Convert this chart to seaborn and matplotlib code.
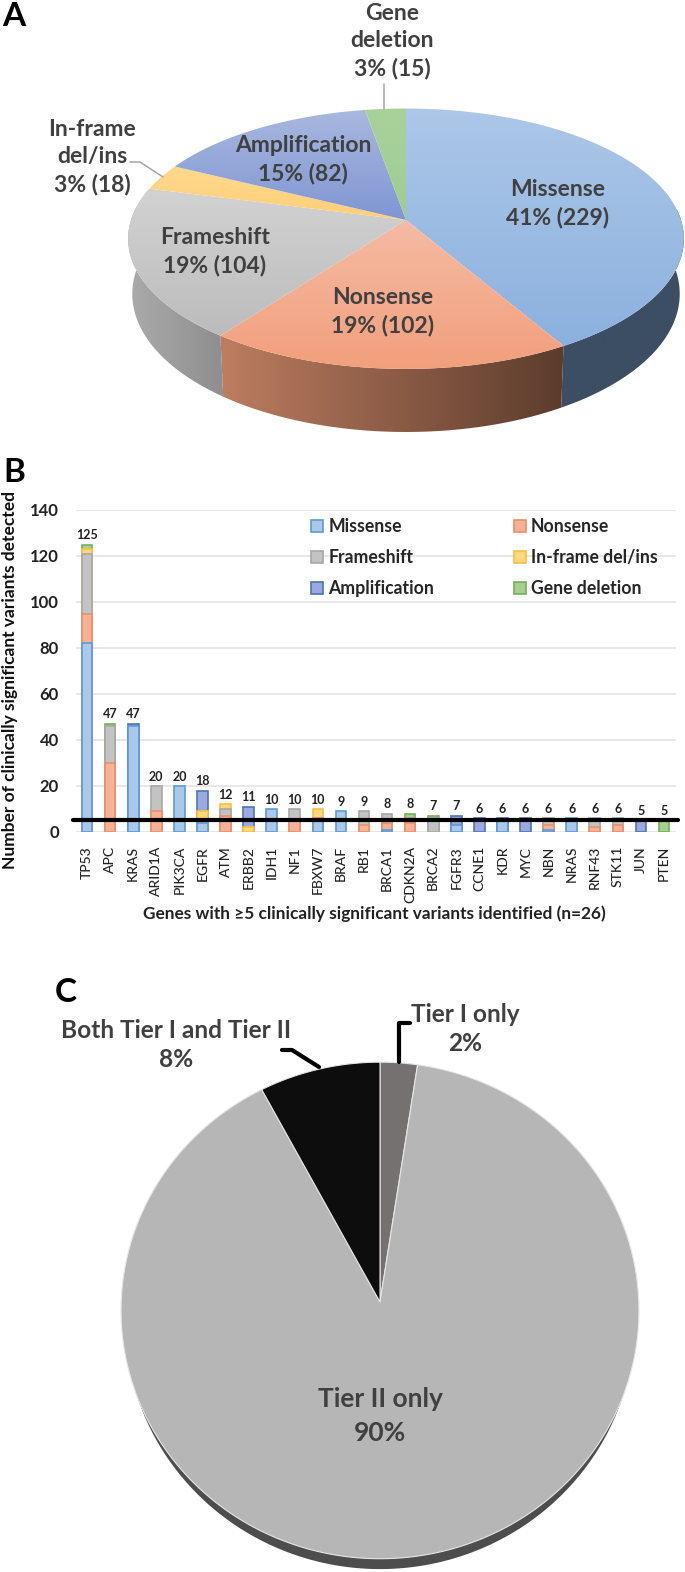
import numpy as np
import pandas as pd
import seaborn as sns
import matplotlib.pyplot as plt
from matplotlib.colors import LinearSegmentedColormap
from matplotlib.patches import Patch, Polygon

# panel A
mut_types = ['Missense', 'Nonsense', 'Frameshift', 'In-frame del/ins', 'Amplification', 'Gene deletion']
mut_counts = [229, 102, 104, 18, 82, 15]
mut_labels = ['Missense\n41% (229)', 'Nonsense\n19% (102)', 'Frameshift\n19% (104)',
              'In-frame\ndel/ins\n3% (18)', 'Amplification\n15% (82)', 'Gene\ndeletion\n3% (15)']

# panel B
genes = ['TP53', 'APC', 'KRAS', 'ARID1A', 'PIK3CA', 'EGFR', 'ATM', 'ERBB2', 'IDH1', 'NF1', 'FBXW7', 'BRAF', 'RB1',
         'BRCA1', 'CDKN2A', 'BRCA2', 'FGFR3', 'CCNE1', 'KDR', 'MYC', 'NBN', 'NRAS', 'RNF43', 'STK11', 'JUN', 'PTEN']
missense = [82, 0, 46, 0, 20, 4, 0, 0, 10, 0, 5, 9, 0, 1, 0, 0, 3, 0, 5, 0, 1, 6, 0, 0, 0, 0]
nonsense = [13, 30, 0, 9, 0, 0, 7, 0, 0, 5, 1, 0, 3, 3, 4, 0, 0, 0, 0, 0, 2, 0, 2, 3, 0, 0]
frameshift = [26, 16, 0, 11, 0, 0, 3, 0, 0, 5, 0, 0, 6, 4, 2, 6, 0, 0, 0, 0, 3, 0, 4, 3, 0, 0]
inframe = [2, 0, 0, 0, 0, 5, 2, 2, 0, 0, 4, 0, 0, 0, 0, 0, 0, 0, 0, 0, 0, 0, 0, 0, 0, 0]
amplification = [0, 0, 1, 0, 0, 9, 0, 9, 0, 0, 0, 0, 0, 0, 0, 0, 4, 6, 1, 6, 0, 0, 0, 0, 5, 0]
deletion = [2, 1, 0, 0, 0, 0, 0, 0, 0, 0, 0, 0, 0, 0, 2, 1, 0, 0, 0, 0, 0, 0, 0, 0, 0, 5]
y_ticks = [0, 20, 40, 60, 80, 100, 120, 140]
threshold = 5

# panel C
tier_names = ['Tier I only', 'Tier II only', 'Both Tier I and Tier II']
tier_share = [2.4, 89.8, 7.8]

W, H = 685, 1572
TEXT = '#404040'

sns.set_theme(style='white')
plt.rcParams['font.family'] = ['Lato', 'DejaVu Sans']
plt.rcParams['font.weight'] = 'bold'

fig = plt.figure(figsize=(W / 100, H / 100), dpi=100)

# bar panel, placed so that the axis runs through the pixel rows of the reference
axb = fig.add_axes([75.5 / W, 1 - 832 / H, 600 / W, 322 / H])
bar_df = pd.DataFrame(dict(zip(mut_types, [missense, nonsense, frameshift, inframe, amplification, deletion])), index=genes)
tops = bar_df.cumsum(axis=1).where(bar_df > 0)
bar_face = ['#a9c8ea', '#f8b196', '#c3c3c3', '#ffd77f', '#9aaade', '#a5d08f']
bar_edge = ['#5b9bd5', '#ea9068', '#a8a8a8', '#f5c242', '#4f74b8', '#78b05a']

# stacked by overdrawing the running totals, tallest layer first
for name, face, edge in list(zip(mut_types, bar_face, bar_edge))[::-1]:
    sns.barplot(x=genes, y=tops[name].values, order=genes, color=face, saturation=1, edgecolor=edge,
                linewidth=1.2, width=0.46, ax=axb, zorder=3)

axb.set_xlim(-0.5, 25.5)
axb.set_ylim(0, 140)
axb.set_yticks(y_ticks)
axb.set_yticklabels(y_ticks, fontsize=12, color='#222222')
axb.set_xticks(range(len(genes)))
axb.set_xticklabels(genes, rotation=90, fontsize=10, color='#222222', fontweight='medium')
axb.tick_params(axis='both', length=0)
axb.tick_params(axis='x', pad=10)
axb.tick_params(axis='y', pad=12)
axb.grid(axis='y', color='#e4e4e4', lw=1.2, zorder=0)
axb.set_axisbelow(True)
sns.despine(ax=axb, left=True, bottom=True)
axb.plot([-0.6, 25.6], [threshold, threshold], color='black', lw=3, clip_on=False, zorder=4)

for i, total in enumerate(bar_df.sum(axis=1)):
    axb.annotate(str(total), (i, total), xytext=(0, 2.5), textcoords='offset points', ha='center', va='bottom',
                 fontsize=9, color='#222222', zorder=5)

handles = [Patch(facecolor=f, edgecolor=e, lw=1.2, label=n) for n, f, e in zip(mut_types, bar_face, bar_edge)]
axb.legend(handles=[handles[i] for i in [0, 2, 4, 1, 3, 5]], ncol=2, frameon=False, fontsize=12.7, handlelength=0.68,
           handleheight=0.68, handletextpad=0.3, labelspacing=0.8, columnspacing=4.5,
           loc='upper left', bbox_to_anchor=(0.375, 1.008), borderaxespad=0.2)

fig.text(10 / W, 1 - 680 / H, 'Number of clinically significant variants detected', rotation=90, ha='center',
         va='center', fontsize=12.5, color='#111111')
fig.text(374 / W, 1 - 914 / H, 'Genes with \u22655 clinically significant variants identified (n=26)', ha='center',
         va='center', fontsize=12.4, color='#222222')

# everything else is drawn on a full figure axes in pixel coordinates
ax = fig.add_axes([0, 0, 1, 1], facecolor='none')
ax.set_axis_off()


def rim(angle, cx, cy, rx, ry, k, drop=0, shrink=1.0):
    # circle seen in perspective: the centre of the pie sits above the centre of the ellipse
    a = np.radians(angle)
    d = 1 + k * np.cos(a)
    return np.column_stack([cx + shrink * rx * np.sin(a) / d, cy - ry * np.cos(a) / d + drop / d])


def gradient_fill(verts, c1, c2, horizontal=False, zorder=1):
    cmap = LinearSegmentedColormap.from_list('g', [c1, c2])
    ramp = np.linspace(0, 1, 256)
    ramp = ramp.reshape(1, -1) if horizontal else ramp.reshape(-1, 1)
    x0, y0 = verts.min(axis=0)
    x1, y1 = verts.max(axis=0)
    im = ax.imshow(ramp, cmap=cmap, extent=(x0, x1, y1, y0), aspect='auto', origin='upper', zorder=zorder)
    im.set_clip_path(Polygon(verts, closed=True, transform=ax.transData))


# panel A
cx, cy, rx, ry, k = 406, 220, 275, 127.5, 0.1438
edges = np.concatenate([[0], np.cumsum(mut_counts)]) / sum(mut_counts) * 360
top_colors = [('#acc7e8', '#8cb1de'), ('#f5bba4', '#f29f7c'), ('#d2d2d2', '#bcbcbc'),
              ('#fed98e', '#fdcf77'), ('#a9b8e0', '#7f96d2'), ('#a9d29b', '#9fcc90')]
side_colors = [('#3c4e64', '#3c4e64'), ('#bd7d60', '#5c3c2d'), ('#ababab', '#8e8e8e')]

# only the front of the wall can be seen
for i, (c1, c2) in enumerate(side_colors):
    angles = np.linspace(max(edges[i], 85), min(edges[i + 1], 285), 120)
    upper = rim(angles, cx, cy, rx, ry, k)
    lower = rim(angles, cx, cy, rx, ry, k, drop=54, shrink=0.985)
    gradient_fill(np.vstack([upper, lower[::-1]]), c1, c2, horizontal=True, zorder=1)

for i in range(len(mut_counts)):
    angles = np.linspace(edges[i], edges[i + 1], 120)
    verts = np.vstack([[cx, cy], rim(angles, cx, cy, rx, ry, k)])
    gradient_fill(verts, top_colors[i][0], top_colors[i][1], zorder=2)

a_pos = [(558, 204), (383, 312), (215, 252), (92, 157), (303, 160), (392, 41)]
for label, (tx, ty) in zip(mut_labels, a_pos):
    ax.text(tx, ty, label, ha='center', va='center', fontsize=16.5, color=TEXT, linespacing=1.38, zorder=5)

ax.plot([384, 384], [84, 109], color='#a6a6a6', lw=1.1, zorder=3)
ax.plot([130, 140, 163], [162, 162, 177], color='#a6a6a6', lw=1.1, zorder=3)

# panel C
px, py, prx, pry, pk = 380, 1302, 258.8, 248, 0.034
shares = np.concatenate([[0], np.cumsum(tier_share)]) / sum(tier_share) * 360
tier_colors = ['#767171', '#b6b6b6', '#0d0d0d']

shadow = rim(np.linspace(90, 270, 200), px, py, prx, pry, pk, drop=10, shrink=0.985)
ax.fill(shadow[:, 0], shadow[:, 1], color='#4d4d4d', lw=0, zorder=1)
for i, color in enumerate(tier_colors):
    angles = np.linspace(shares[i], shares[i + 1], 300)
    verts = np.vstack([[px, py], rim(angles, px, py, prx, pry, pk)])
    ax.add_patch(Polygon(verts, closed=True, facecolor=color, edgecolor='#e6e6e6', lw=0.8, zorder=2))

ax.text(465, 1029, 'Tier I only\n2%', ha='center', va='center', fontsize=17.6, color=TEXT, linespacing=1.32, zorder=5)
ax.text(176, 1045, 'Both Tier I and Tier II\n8%', ha='center', va='center', fontsize=17.6, color=TEXT,
        linespacing=1.32, zorder=5)
ax.text(380, 1416, 'Tier II only\n90%', ha='center', va='center', fontsize=19, color=TEXT, linespacing=1.5, zorder=5)
ax.plot([399, 399, 410], [1062, 1023, 1023], color='black', lw=3, solid_joinstyle='round', zorder=3)
ax.plot([282, 292, 319], [1050, 1050, 1067], color='black', lw=3, solid_joinstyle='round', zorder=3)

# panel letters
for letter, lx, ly in [('A', 14, 17), ('B', 14, 472), ('C', 66, 993)]:
    ax.text(lx, ly, letter, ha='center', va='center', fontsize=24, color='black', zorder=5)

ax.set_xlim(0, W)
ax.set_ylim(H, 0)

fig.savefig('out.png', dpi=100, facecolor='white')
